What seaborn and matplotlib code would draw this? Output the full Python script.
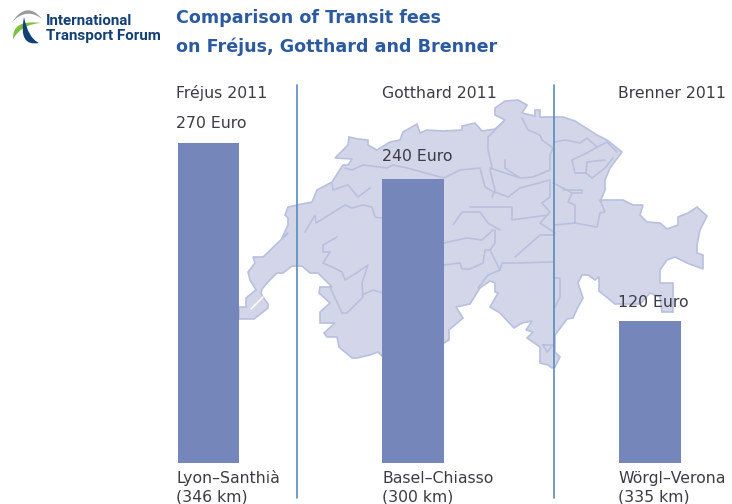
import matplotlib
matplotlib.use('Agg')
import matplotlib.pyplot as plt
from matplotlib.patches import Polygon, PathPatch
from matplotlib.path import Path
import seaborn as sns
import pandas as pd

# chart values
tunnels = ['Fréjus 2011', 'Gotthard 2011', 'Brenner 2011']
fees = [270, 240, 120]
routes = ['Lyon–Santhià', 'Basel–Chiasso', 'Wörgl–Verona']
distances = [346, 300, 335]

# bar centres and header positions, in picture pixels
bar_x = [208.5, 413, 650]
header_x = [176, 382, 618]
label_gap = [15, 18, 14]

BAR = '#7587ba'
MAP_FILL = '#d3d6e9'
MAP_EDGE = '#b9c0de'
RULE = '#5a8abb'
TEXT = '#3c3c46'
TITLE = '#2c5a9e'
NAVY = '#123f74'
LABEL_SIZE = 11.3

# backdrop map of Switzerland, traced in picture pixels
outline = [
    (239, 319), (254, 319), (268, 308), (268, 304), (263, 297), (261, 293), (262, 289), (268, 282),
    (277, 273), (283, 273), (292, 266), (302, 266), (310, 273), (318, 273), (332, 287), (320, 287),
    (319, 293), (330, 303), (320, 312), (320, 323), (335, 323), (324, 333), (327, 337), (337, 337),
    (339, 347), (352, 358), (357, 358), (370, 355), (378, 352), (383, 357), (444, 343), (449, 340),
    (449, 330), (463, 318), (456, 307), (470, 304), (480, 288), (490, 281), (495, 283), (495, 292),
    (498, 293), (490, 307), (500, 313), (514, 328), (522, 323), (532, 321), (526, 330), (533, 332),
    (527, 338), (540, 347), (540, 363), (548, 365), (552, 368), (555, 367), (560, 357), (555, 352),
    (555, 335), (567, 319), (573, 318), (577, 309), (583, 298), (578, 283), (582, 275), (588, 275),
    (595, 280), (599, 277), (599, 291), (615, 304), (640, 304), (650, 293), (660, 297), (662, 312),
    (673, 312), (673, 283), (660, 283), (660, 270), (667, 260), (675, 257), (687, 263), (703, 269),
    (703, 255), (697, 253), (697, 245), (700, 230), (707, 216), (697, 207), (688, 213), (678, 217),
    (678, 225), (667, 229), (660, 223), (647, 222), (640, 215), (643, 205), (633, 205), (623, 200),
    (603, 200), (600, 202), (605, 190), (605, 180), (610, 168), (622, 152), (607, 140), (597, 135),
    (575, 121), (563, 117), (540, 117), (540, 110), (535, 110), (535, 116), (522, 113), (527, 105),
    (518, 100), (505, 101), (495, 108), (495, 115), (505, 120), (495, 129), (482, 131), (475, 123),
    (462, 126), (462, 130), (443, 131), (427, 130), (420, 133), (417, 124), (403, 132), (400, 140),
    (390, 142), (377, 150), (368, 145), (368, 140), (358, 139), (349, 137), (348, 145), (335, 158),
    (352, 159), (348, 165), (343, 165), (332, 182), (317, 190), (312, 202), (297, 205), (288, 207),
    (285, 215), (288, 218), (288, 225), (282, 238), (288, 233), (263, 257), (253, 257), (255, 263),
    (248, 272), (250, 280), (256, 290), (246, 298), (246, 307), (239, 307),
]

borders = [
    [(345, 168), (352, 170), (363, 165), (387, 168), (393, 165), (407, 168), (444, 178), (460, 170), (480, 168), (485, 187), (495, 193)],
    [(332, 183), (333, 190), (348, 185), (358, 197), (370, 188)],
    [(305, 232), (315, 215), (316, 223), (345, 205), (352, 208), (363, 205), (372, 207), (375, 217), (405, 222)],
    [(330, 287), (342, 313), (347, 313), (363, 297), (362, 283), (368, 265), (358, 272), (345, 280), (342, 272), (332, 267), (323, 263), (330, 252), (323, 252), (323, 245), (337, 237)],
    [(362, 295), (373, 290), (383, 293)],
    [(505, 120), (488, 137), (488, 150), (492, 167), (490, 170), (495, 190), (492, 197)],
    [(522, 118), (528, 130), (540, 135), (542, 140), (553, 148), (550, 155), (550, 170), (533, 177), (520, 178), (490, 168)],
    [(555, 142), (565, 140), (580, 143), (587, 138), (597, 147), (607, 142), (617, 152)],
    [(572, 160), (575, 173), (586, 173), (587, 162), (605, 160)],
    [(572, 160), (587, 153), (597, 147)],
    [(586, 173), (592, 178), (605, 168), (613, 158)],
    [(553, 183), (563, 188), (572, 193), (568, 202), (575, 205), (575, 223), (555, 225)],
    [(563, 190), (582, 190), (582, 193), (572, 193)],
    [(575, 223), (597, 227), (600, 213), (605, 212), (600, 200)],
    [(550, 180), (520, 188), (508, 197), (495, 192)],
    [(550, 182), (550, 197), (542, 203), (550, 212), (540, 223), (555, 233)],
    [(453, 225), (462, 212), (480, 212), (488, 223), (500, 230)],
    [(470, 207), (495, 207), (512, 207), (512, 220), (548, 215)],
    [(444, 265), (460, 263), (462, 269), (470, 269), (483, 263), (485, 250), (490, 250), (500, 270), (488, 275), (478, 288)],
    [(500, 270), (502, 263), (518, 263), (553, 262)],
    [(515, 257), (540, 235), (553, 235)],
    [(490, 250), (495, 243), (495, 230)],
    [(444, 243), (467, 238), (482, 240), (493, 230)],
    [(543, 345), (553, 345), (547, 352), (543, 345)],
    [(555, 278), (560, 278), (560, 297), (555, 307)],
    [(505, 160), (505, 168), (520, 178)],
]

sns.set_theme(style='white')
plt.rcParams['font.family'] = ['DejaVu Sans']

fig = plt.figure(figsize=(7.32, 5.04), dpi=100)

# overlay in pixel coordinates for the map, logo and rules
bg = fig.add_axes([0, 0, 1, 1], zorder=0)
bg.set_xlim(0, 732)
bg.set_ylim(504, 0)
bg.axis('off')

bg.add_patch(Polygon(outline, closed=True, facecolor=MAP_FILL, edgecolor=MAP_EDGE, linewidth=1.2))
for line in borders:
    bg.plot([p[0] for p in line], [p[1] for p in line], color=MAP_EDGE, linewidth=1.2)
bg.plot([251, 263], [309, 297], color='white', linewidth=1.2)

# the chart itself: y in Euro, 0 at pixel 463, 1.185 px per Euro
ax = fig.add_axes([0, 0, 1, 1], zorder=1)
ax.patch.set_alpha(0)
df = pd.DataFrame({'x': bar_x, 'fee': fees})
sns.barplot(data=df, x='x', y='fee', native_scale=True, width=0.3, color=BAR, saturation=1,
            linewidth=0, edgecolor='none', ax=ax)
ax.set_xlim(0, 732)
ax.set_ylim((463 - 504) / 1.185, 463 / 1.185)
ax.axis('off')

for x, fee, gap in zip(header_x, fees, label_gap):
    ax.text(x, fee + gap / 1.185, f'{fee} Euro', fontsize=LABEL_SIZE, color=TEXT, va='baseline')

# text and rules on top
top = fig.add_axes([0, 0, 1, 1], zorder=2)
top.patch.set_alpha(0)
top.set_xlim(0, 732)
top.set_ylim(504, 0)
top.axis('off')

for x in [296.5, 554]:
    top.plot([x, x], [85, 498], color=RULE, linewidth=1.2)

for x, name, route, dist in zip(header_x, tunnels, routes, distances):
    top.text(x, 98, name, fontsize=LABEL_SIZE, color=TEXT, va='baseline')
    top.text(x, 483, route, fontsize=LABEL_SIZE, color=TEXT, va='baseline')
    top.text(x, 501, f'({dist} km)', fontsize=LABEL_SIZE, color=TEXT, va='baseline')

top.text(176, 23, 'Comparison of Transit fees', fontsize=12.6, color=TITLE, va='baseline', fontweight='bold')
top.text(176, 52, 'on Fréjus, Gotthard and Brenner', fontsize=12.6, color=TITLE, va='baseline', fontweight='bold')

# logo
top.text(46, 25, 'International', fontsize=10.9, color=NAVY, va='baseline', fontweight='bold', family='Roboto')
top.text(46, 40, 'Transport Forum', fontsize=10.9, color=NAVY, va='baseline', fontweight='bold', family='Roboto')


def swoosh(points, color):
    # filled crescent from two quadratic curves
    codes = [Path.MOVETO, Path.CURVE3, Path.CURVE3, Path.CURVE3, Path.CURVE3]
    top.add_patch(PathPatch(Path(points, codes), facecolor=color, edgecolor='none'))


swoosh([(12, 22), (27, 0), (42, 19), (27, 7), (12, 22)], '#9a9a9a')
swoosh([(13, 39), (12, 19), (41, 23), (22, 24), (13, 39)], '#7fbf3f')
swoosh([(24, 17), (18, 47), (39, 43), (28, 38), (24, 17)], NAVY)

fig.savefig('out.png', dpi=100)
